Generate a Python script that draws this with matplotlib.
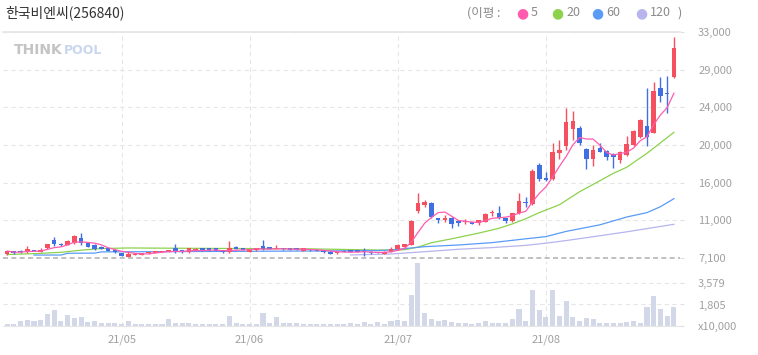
import matplotlib
matplotlib.use("Agg")
import matplotlib.pyplot as plt
import numpy as np
import pandas as pd

plt.rcParams['font.family'] = ['Noto Sans CJK KR', 'DejaVu Sans']

# 데이터 (일봉, 2021-04 ~ 2021-08)
open_ = [7520, 7900, 7940, 7750, 7980, 7830, 8210, 9160, 8700, 8630,
         8800, 9350, 8860, 8600, 8400, 8210, 8020, 7640, 7250, 7480,
         7500, 7640, 7700, 7800, 7850, 8200, 7980, 7750, 8000, 8210,
         8210, 8210, 8020, 7750, 8400, 8280, 7830, 7980, 8470, 8320,
         8130, 8280, 8280, 8280, 7900, 8050, 7980, 7980, 7830, 7650,
         7940, 8020, 7980, 7900, 7830, 7750, 7600, 7830, 8100, 8400,
         8590, 12490, 13170, 13440, 11650, 11460, 11720, 11340, 11200, 11200,
         11070, 11250, 12220, 12300, 11650, 11310, 12220, 13550, 13250, 17800,
         16300, 16110, 19100, 19970, 21840, 22040, 19560, 18410, 19670, 19400,
         19050, 18330, 18900, 20050, 21000, 22230, 21460, 26630, 26050, 27800]
high = [7950, 7950, 8000, 8470, 8050, 8250, 8750, 9470, 8780, 9200,
        9700, 10000, 8900, 8700, 8450, 8250, 8050, 7680, 7900, 7650,
        7700, 7800, 7900, 7950, 8050, 8650, 8050, 8250, 8300, 8250,
        8250, 8250, 8050, 9050, 8450, 8300, 8150, 8250, 9160, 8350,
        8590, 8300, 8300, 8300, 8250, 8100, 8050, 8030, 7880, 7880,
        7980, 8060, 8030, 8280, 7880, 7800, 7880, 8350, 8650, 8750,
        11400, 14510, 13700, 13550, 11700, 12000, 11750, 11400, 11550, 11250,
        11450, 12300, 12600, 13100, 11700, 12300, 14500, 14100, 17300, 18000,
        16900, 20240, 20600, 24250, 24000, 22200, 19700, 20070, 20300, 19500,
        19100, 19400, 21100, 21800, 23000, 26540, 27300, 27800, 27990, 32400]
low = [7450, 7600, 7700, 7700, 7880, 7800, 8150, 8520, 8480, 8550,
       8750, 8590, 8350, 8000, 8100, 7900, 7700, 7280, 7200, 7430,
       7450, 7600, 7650, 7750, 7800, 7700, 7700, 7700, 7950, 7940,
       7860, 7860, 7700, 7700, 8080, 7980, 7780, 7940, 8050, 8080,
       8080, 8060, 7980, 7960, 7860, 7940, 7900, 7700, 7550, 7600,
       7780, 7780, 7780, 7360, 7600, 7640, 7550, 7780, 8050, 8350,
       8550, 12220, 12950, 11650, 11150, 11220, 10500, 10800, 10950, 10950,
       10850, 11200, 11900, 11600, 11100, 11250, 12150, 13000, 13150, 15900,
       15900, 16050, 18400, 19480, 20600, 20100, 17300, 17590, 19200, 18300,
       17470, 18000, 18800, 19950, 20900, 19970, 21400, 25000, 23700, 27700]
close = [7900, 7640, 7750, 8090, 7940, 8020, 8670, 8700, 8550, 9080,
         9620, 8780, 8400, 8100, 8170, 7940, 7750, 7330, 7520, 7600,
         7640, 7780, 7860, 7900, 8000, 7750, 7750, 8200, 8100, 7980,
         7900, 7900, 7750, 8280, 8130, 8020, 8130, 8210, 8100, 8130,
         8210, 8100, 8050, 8020, 8210, 7980, 7940, 7750, 7600, 7830,
         7830, 7830, 7830, 7750, 7650, 7680, 7830, 8130, 8590, 8670,
         11340, 13370, 13500, 11830, 11450, 11670, 11000, 11070, 11350, 11000,
         11400, 12100, 12400, 11650, 11340, 12220, 13650, 13370, 17070, 16150,
         16040, 19280, 19480, 22720, 22840, 20240, 18410, 19420, 19280, 18710,
         18660, 19280, 20170, 21650, 22920, 21000, 26240, 25660, 25900, 31130]
volume = [190, 140, 410, 500, 410, 500, 1020, 1380, 410, 940,
          690, 770, 330, 410, 220, 220, 220, 140, 410, 140,
          140, 140, 140, 140, 580, 220, 220, 220, 140, 140,
          140, 140, 140, 850, 220, 140, 140, 140, 1130, 220,
          760, 220, 220, 220, 140, 140, 140, 140, 140, 140,
          140, 220, 140, 330, 140, 330, 140, 410, 500, 410,
          2620, 5290, 1050, 610, 410, 500, 330, 270, 270, 140,
          270, 410, 270, 280, 270, 610, 1430, 410, 3030, 1380,
          770, 3030, 880, 2070, 770, 410, 690, 610, 280, 220,
          220, 220, 330, 410, 220, 1600, 2530, 1430, 880, 1600]

# 이동평균선
ma20_idx = [0, 4, 8, 11, 14, 18, 30, 45, 52, 57, 59, 61, 63, 66, 70, 73, 75, 77, 79, 82, 85, 88, 90, 92, 95, 97, 99]
ma20_val = [7500, 7600, 7750, 8000, 8180, 8250, 8200, 8150, 8050, 8000, 8050, 8350, 8850, 9300, 9950, 10500,
            11000, 11600, 12300, 13200, 14700, 15950, 16800, 17500, 19100, 20300, 21500]
ma60_idx = [4, 8, 9, 13, 14, 30, 45, 55, 57, 62, 67, 72, 77, 80, 83, 88, 92, 95, 97, 99]
ma60_val = [7440, 7440, 7640, 7660, 7800, 7850, 7900, 7950, 8020, 8400, 8590, 8860, 9300, 9550, 10150,
            10900, 11800, 12300, 12980, 13900]
ma120_idx = [51, 57, 62, 67, 72, 77, 80, 83, 88, 92, 99]
ma120_val = [7450, 7560, 7820, 8100, 8290, 8550, 8800, 9100, 9650, 10100, 10960]

month_idx = [17, 36, 58, 80]
month_labels = ["21/05", "21/06", "21/07", "21/08"]
price_labels = ["7,100", "11,000", "16,000", "20,000", "24,000", "29,000", "33,000"]
vol_ticks = [0, 1805, 3579]
vol_labels = ["x10,000", "1,805", "3,579"]

up_c = "#F5505F"
dn_c = "#3F6FE3"
ma_colors = ["#FF5CAD", "#8CD24C", "#5A9BF5", "#B7B4EE"]
ma_names = ["5", "20", "60", "120"]

W, H = 758, 355
fig = plt.figure(figsize=(W / 100, H / 100), dpi=100)


def box(x0, y0, x1, y1):
    return [x0 / W, 1 - y1 / H, (x1 - x0) / W, (y1 - y0) / H]


ax = fig.add_axes(box(3, 32, 680, 258))
axv = fig.add_axes(box(3, 261, 680, 326), sharex=ax)

o = np.array(open_)
c = np.array(close)
x = np.arange(len(c))
colors = [up_c if cc >= oo else dn_c for oo, cc in zip(o, c)]

# 캔들
ax.vlines(x, low, high, colors=colors, lw=1, zorder=3)
body = np.maximum(np.abs(c - o), 90)
ax.bar(x, body, bottom=np.minimum(o, c), width=0.68, color=colors, zorder=4)

# 이동평균
ma5 = pd.Series(close).rolling(5, min_periods=1).mean()
ax.plot(x, ma5, color=ma_colors[0], lw=0.9, zorder=5)
ax.plot(ma20_idx, ma20_val, color=ma_colors[1], lw=0.9, zorder=2)
ax.plot(ma60_idx, ma60_val, color=ma_colors[2], lw=0.9, zorder=2)
ax.plot(ma120_idx, ma120_val, color=ma_colors[3], lw=0.9, zorder=2)

ax.set_xlim(-0.6, 99.9)
ax.set_ylim(7100, 33000)
ax.set_yticks(np.linspace(7100, 33000, len(price_labels)))
ax.set_yticklabels(price_labels)
ax.yaxis.tick_right()
ax.tick_params(axis="y", length=3, color="#E0E0E0", pad=10, labelsize=8, labelcolor="#A0A0A0")
ax.tick_params(axis="x", length=0, labelbottom=False)
ax.set_xticks(month_idx)
ax.grid(True, color="#E6E6E6", linestyle=(0, (4, 3)), lw=0.8, zorder=0)
for s in ["left", "right", "bottom"]:
    ax.spines[s].set_visible(False)
ax.spines["top"].set_color("#E6E6E6")
ax.spines["top"].set_linewidth(1.3)
ax.axhline(7100, color="#B5B5B5", lw=1.2, linestyle=(0, (3, 2)), clip_on=False, zorder=6)

# 거래량
axv.bar(x, volume, width=0.75, color="#D3D8E8", zorder=2)
axv.set_ylim(0, 5450)
axv.set_yticks(vol_ticks)
axv.set_yticklabels(vol_labels)
axv.yaxis.tick_right()
axv.tick_params(axis="y", length=3, color="#E0E0E0", pad=10, labelsize=8, labelcolor="#A0A0A0")
axv.set_xticks(month_idx)
axv.set_xticklabels(month_labels)
axv.tick_params(axis="x", length=0, pad=6, labelsize=8, labelcolor="#A0A0A0")
axv.grid(True, color="#E6E6E6", linestyle=(0, (4, 3)), lw=0.8, zorder=0)
for s in ["left", "right", "top"]:
    axv.spines[s].set_visible(False)
axv.spines["bottom"].set_color("#E6E6E6")

# 제목, 범례, 워터마크
fig.text(5 / W, 1 - 13 / H, "한국비엔씨(256840)", fontsize=10, color="#333333", va="center")
fig.text(467 / W, 1 - 13 / H, "(이평 :", fontsize=9, color="#8A8A8A", va="center")
leg_x = [522, 557, 597, 641]
for lx, col, name in zip(leg_x, ma_colors, ma_names):
    fig.text(lx / W, 1 - 13 / H, "●", fontsize=10, color=col, va="center", ha="center", family="DejaVu Sans")
    fig.text((lx + 9) / W, 1 - 13 / H, name, fontsize=9, color="#8A8A8A", va="center")
fig.text(677 / W, 1 - 13 / H, ")", fontsize=9, color="#8A8A8A", va="center")
fig.text(14 / W, 1 - 50 / H, "THINK", fontsize=10, weight="heavy", color="#C4C4C4", va="center", family="DejaVu Sans")
fig.text(64 / W, 1 - 50 / H, "POOL", fontsize=9, weight="heavy", color="#C9D7EE", va="center", family="DejaVu Sans")

fig.savefig("out.png", dpi=100, facecolor="white")
